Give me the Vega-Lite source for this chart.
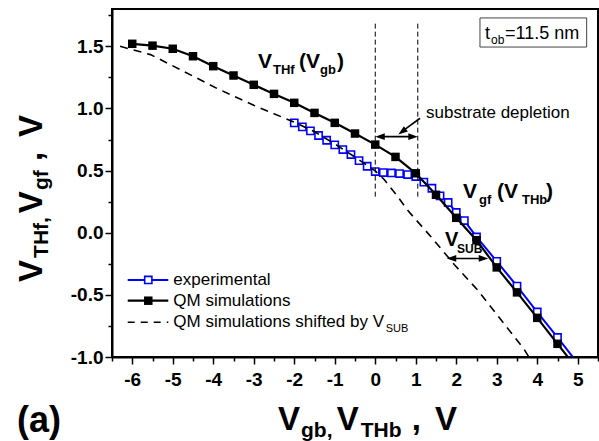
{
  "$schema": "https://vega.github.io/schema/vega-lite/v6.json",
  "width": 486,
  "height": 348,
  "autosize": {"type": "none"},
  "padding": {"left": 112, "top": 9, "right": 1, "bottom": 84},
  "background": "white",
  "config": {"view": {"stroke": "black", "strokeWidth": 2}, "font": "Liberation Sans"},
  "datasets": {
    "exp": [
      {"x": -2.0, "y": 0.884}, {"x": -1.8, "y": 0.852}, {"x": -1.6, "y": 0.819}, {"x": -1.4, "y": 0.782},
      {"x": -1.2, "y": 0.744}, {"x": -1.0, "y": 0.707}, {"x": -0.8, "y": 0.669}, {"x": -0.6, "y": 0.629},
      {"x": -0.4, "y": 0.58}, {"x": -0.2, "y": 0.535}, {"x": 0.0, "y": 0.492}, {"x": 0.2, "y": 0.484},
      {"x": 0.4, "y": 0.481}, {"x": 0.6, "y": 0.476}, {"x": 0.8, "y": 0.468}, {"x": 1.0, "y": 0.452},
      {"x": 1.2, "y": 0.407}, {"x": 1.4, "y": 0.358}, {"x": 1.6, "y": 0.297}, {"x": 1.8, "y": 0.243},
      {"x": 2.0, "y": 0.163}, {"x": 2.2, "y": 0.098}, {"x": 2.5, "y": -0.034}, {"x": 3.0, "y": -0.23},
      {"x": 3.5, "y": -0.43}, {"x": 4.0, "y": -0.638}, {"x": 4.5, "y": -0.843}, {"x": 4.95, "y": -1.03}
    ],
    "qm": [
      {"x": -6.0, "y": 1.52}, {"x": -5.5, "y": 1.505}, {"x": -5.0, "y": 1.48}, {"x": -4.5, "y": 1.42},
      {"x": -4.0, "y": 1.34}, {"x": -3.5, "y": 1.265}, {"x": -3.0, "y": 1.19}, {"x": -2.5, "y": 1.117},
      {"x": -2.0, "y": 1.045}, {"x": -1.5, "y": 0.964}, {"x": -1.0, "y": 0.884}, {"x": -0.5, "y": 0.798},
      {"x": 0.0, "y": 0.709}, {"x": 0.5, "y": 0.61}, {"x": 1.0, "y": 0.478}, {"x": 1.5, "y": 0.305},
      {"x": 2.0, "y": 0.12}, {"x": 2.5, "y": -0.06}, {"x": 3.0, "y": -0.279}, {"x": 3.5, "y": -0.48},
      {"x": 4.0, "y": -0.685}, {"x": 4.5, "y": -0.894}, {"x": 4.95, "y": -1.08}
    ],
    "shifted": [
      {"x": -6.3, "y": 1.5}, {"x": -5.55, "y": 1.433}, {"x": -4.8, "y": 1.31}, {"x": -3.9, "y": 1.16},
      {"x": -3.0, "y": 1.025}, {"x": -2.5, "y": 0.957}, {"x": -2.0, "y": 0.89}, {"x": -1.5, "y": 0.812},
      {"x": -1.0, "y": 0.715}, {"x": -0.5, "y": 0.608}, {"x": 0.0, "y": 0.497}, {"x": 0.22, "y": 0.428},
      {"x": 0.55, "y": 0.293}, {"x": 0.8, "y": 0.18}, {"x": 1.37, "y": -0.03}, {"x": 1.95, "y": -0.256},
      {"x": 2.53, "y": -0.462}, {"x": 3.1, "y": -0.699}, {"x": 3.68, "y": -0.94}, {"x": 3.85, "y": -1.03}
    ],
    "vlines": [
      {"x": 0.0, "y": 0.29, "y2": 1.69},
      {"x": 1.05, "y": 0.29, "y2": 1.69}
    ],
    "arrows": [
      {"x": 0.1, "y": 0.773, "x2": 0.95, "y2": 0.773},
      {"x": 1.105, "y": 0.921, "x2": 0.64, "y2": 0.81},
      {"x": 1.85, "y": -0.207, "x2": 2.7, "y2": -0.207}
    ],
    "heads_right": [{"x": 1.05, "y": 0.773}, {"x": 2.79, "y": -0.207}],
    "heads_left": [{"x": 0.0, "y": 0.773}, {"x": 1.765, "y": -0.207}],
    "heads_diag": [{"x": 0.569, "y": 0.79}],
    "box": [{"x": 2.586, "x2": 5.22, "y": 1.494, "y2": 1.728}],
    "box_main": [{"t": "t", "x": 2.71, "y": 1.559}, {"t": "=11.5 nm", "x": 3.204, "y": 1.559}],
    "box_sub": [{"t": "ob", "x": 2.858, "y": 1.515}],
    "note": [{"t": "substrate depletion", "x": 1.253, "y": 0.923}],
    "lab_main": [
      {"t": "V", "x": -2.895, "y": 1.325}, {"t": "(V", "x": -1.883, "y": 1.325}, {"t": ")", "x": -0.944, "y": 1.325},
      {"t": "V", "x": 2.167, "y": 0.279}, {"t": "(V", "x": 3.006, "y": 0.279}, {"t": ")", "x": 4.216, "y": 0.279}
    ],
    "lab_sub": [
      {"t": "THf", "x": -2.525, "y": 1.277}, {"t": "gb", "x": -1.364, "y": 1.277},
      {"t": "gf", "x": 2.562, "y": 0.231}, {"t": "THb", "x": 3.623, "y": 0.231}
    ],
    "vsub_main": [{"t": "V", "x": 1.722, "y": -0.107}],
    "vsub_sub": [{"t": "SUB", "x": 2.019, "y": -0.163}],
    "xt_main": [
      {"t": "V", "x": -2.4, "y": -1.587}, {"t": "V", "x": -0.95, "y": -1.587},
      {"t": ",", "x": 0.9, "y": -1.587}, {"t": "V", "x": 1.475, "y": -1.587}
    ],
    "xt_sub": [{"t": "gb,", "x": -1.833, "y": -1.644}, {"t": "THb", "x": -0.36, "y": -1.644}],
    "yt_main": [
      {"t": "V", "x": -8.228, "y": -0.396}, {"t": "V", "x": -8.228, "y": 0.156},
      {"t": ",", "x": -8.228, "y": 0.577}, {"t": "V", "x": -8.228, "y": 0.77}
    ],
    "yt_sub": [{"t": "THf,", "x": -8.08, "y": -0.203}, {"t": "gf", "x": -8.08, "y": 0.344}],
    "panel": [{"t": "(a)", "x": -8.846, "y": -1.606}],
    "leg_exp_line": [{"x": -6.112, "x2": -5.11, "y": -0.38}],
    "leg_qm_line": [{"x": -6.112, "x2": -5.11, "y": -0.547}],
    "leg_sh_line": [{"x": -6.112, "x2": -5.11, "y": -0.721}],
    "leg_exp_pt": [{"x": -5.604, "y": -0.38}],
    "leg_qm_pt": [{"x": -5.604, "y": -0.547}],
    "leg_text": [
      {"t": "experimental", "x": -4.986, "y": -0.38},
      {"t": "QM simulations", "x": -4.986, "y": -0.547},
      {"t": "QM simulations shifted by V", "x": -4.986, "y": -0.721}
    ],
    "leg_sub": [{"t": "SUB", "x": 0.26, "y": -0.778}]
  },
  "encoding": {
    "x": {
      "field": "x", "type": "quantitative",
      "scale": {"domain": [-6.5, 5.5], "nice": false, "zero": false},
      "axis": {
        "title": null, "grid": false,
        "values": [-6.5, -6, -5.5, -5, -4.5, -4, -3.5, -3, -2.5, -2, -1.5, -1, -0.5, 0, 0.5, 1, 1.5, 2, 2.5, 3, 3.5, 4, 4.5, 5, 5.5],
        "domainColor": "black", "domainWidth": 2,
        "tickColor": "black", "tickWidth": 1.5,
        "tickSize": {"condition": {"test": "datum.value % 1 !== 0", "value": 4}, "value": 7},
        "labelExpr": "datum.value % 1 !== 0 ? '' : replace(format(datum.value, 'd'), '\u2212', '-')",
        "labelFont": "Liberation Sans", "labelFontWeight": "bold", "labelFontSize": 19,
        "labelColor": "black", "labelPadding": 6, "labelFlush": false, "labelOverlap": false
      }
    },
    "y": {
      "field": "y", "type": "quantitative",
      "scale": {"domain": [-1, 1.8], "nice": false, "zero": false},
      "axis": {
        "title": null, "grid": false,
        "values": [-1, -0.75, -0.5, -0.25, 0, 0.25, 0.5, 0.75, 1, 1.25, 1.5, 1.75],
        "domainColor": "black", "domainWidth": 2,
        "tickColor": "black", "tickWidth": 1.5,
        "tickSize": {"condition": {"test": "abs(datum.value*2 - round(datum.value*2)) > 0.01", "value": 4}, "value": 7},
        "labelExpr": "abs(datum.value*2 - round(datum.value*2)) > 0.01 ? '' : replace(format(datum.value, '.1f'), '\u2212', '-')",
        "labelFont": "Liberation Sans", "labelFontWeight": "bold", "labelFontSize": 19,
        "labelColor": "black", "labelPadding": 2, "labelFlush": false, "labelOverlap": false
      }
    }
  },
  "layer": [
    {"data": {"name": "exp"}, "mark": {"type": "line", "color": "#0000ff", "strokeWidth": 2, "clip": true}},
    {"data": {"name": "exp"}, "transform": [{"filter": "datum.x < 4.7"}],
     "mark": {"type": "point", "shape": "square", "filled": true, "fill": "white", "stroke": "#0000ff", "strokeWidth": 1.6, "size": 52, "opacity": 1}},
    {"data": {"name": "qm"}, "mark": {"type": "line", "color": "black", "strokeWidth": 2.2, "clip": true}},
    {"data": {"name": "qm"}, "transform": [{"filter": "datum.x < 4.7"}],
     "mark": {"type": "point", "shape": "square", "filled": true, "color": "black", "size": 72, "opacity": 1}},
    {"data": {"name": "shifted"}, "mark": {"type": "line", "color": "black", "strokeWidth": 1.6, "strokeDash": [8, 6], "clip": true}},
    {"data": {"name": "vlines"}, "mark": {"type": "rule", "color": "black", "strokeWidth": 1, "strokeDash": [5, 3]},
     "encoding": {"y2": {"field": "y2"}}},
    {"data": {"name": "arrows"}, "mark": {"type": "rule", "color": "black", "strokeWidth": 1.6},
     "encoding": {"x2": {"field": "x2"}, "y2": {"field": "y2"}}},
    {"data": {"name": "heads_right"}, "mark": {"type": "point", "shape": "M0,0L-2,-0.7L-2,0.7Z", "filled": true, "color": "black", "size": 90, "opacity": 1}},
    {"data": {"name": "heads_left"}, "mark": {"type": "point", "shape": "M0,0L2,-0.7L2,0.7Z", "filled": true, "color": "black", "size": 90, "opacity": 1}},
    {"data": {"name": "heads_diag"}, "mark": {"type": "point", "shape": "M0,0L-2,-0.7L-2,0.7Z", "angle": 143, "filled": true, "color": "black", "size": 90, "opacity": 1}},
    {"data": {"name": "box"}, "mark": {"type": "rect", "fill": "white", "stroke": "#444444", "strokeWidth": 1},
     "encoding": {"x2": {"field": "x2"}, "y2": {"field": "y2"}}},
    {"data": {"name": "box_main"}, "mark": {"type": "text", "align": "left", "baseline": "alphabetic", "fontSize": 18, "color": "black"},
     "encoding": {"text": {"field": "t"}}},
    {"data": {"name": "box_sub"}, "mark": {"type": "text", "align": "left", "baseline": "alphabetic", "fontSize": 12, "color": "black"},
     "encoding": {"text": {"field": "t"}}},
    {"data": {"name": "note"}, "mark": {"type": "text", "align": "left", "baseline": "alphabetic", "fontSize": 17, "color": "black"},
     "encoding": {"text": {"field": "t"}}},
    {"data": {"name": "lab_main"}, "mark": {"type": "text", "align": "left", "baseline": "alphabetic", "fontSize": 21, "fontWeight": "bold", "color": "black"},
     "encoding": {"text": {"field": "t"}}},
    {"data": {"name": "lab_sub"}, "mark": {"type": "text", "align": "left", "baseline": "alphabetic", "fontSize": 13, "fontWeight": "bold", "color": "black"},
     "encoding": {"text": {"field": "t"}}},
    {"data": {"name": "vsub_main"}, "mark": {"type": "text", "align": "left", "baseline": "alphabetic", "fontSize": 20, "fontWeight": "bold", "color": "black"},
     "encoding": {"text": {"field": "t"}}},
    {"data": {"name": "vsub_sub"}, "mark": {"type": "text", "align": "left", "baseline": "alphabetic", "fontSize": 12, "fontWeight": "bold", "color": "black"},
     "encoding": {"text": {"field": "t"}}},
    {"data": {"name": "xt_main"}, "mark": {"type": "text", "align": "left", "baseline": "alphabetic", "fontSize": 33, "fontWeight": "bold", "color": "black"},
     "encoding": {"text": {"field": "t"}}},
    {"data": {"name": "xt_sub"}, "mark": {"type": "text", "align": "left", "baseline": "alphabetic", "fontSize": 21, "fontWeight": "bold", "color": "black"},
     "encoding": {"text": {"field": "t"}}},
    {"data": {"name": "yt_main"}, "mark": {"type": "text", "align": "left", "baseline": "alphabetic", "angle": 270, "fontSize": 33, "fontWeight": "bold", "color": "black"},
     "encoding": {"text": {"field": "t"}}},
    {"data": {"name": "yt_sub"}, "mark": {"type": "text", "align": "left", "baseline": "alphabetic", "angle": 270, "fontSize": 21, "fontWeight": "bold", "color": "black"},
     "encoding": {"text": {"field": "t"}}},
    {"data": {"name": "panel"}, "mark": {"type": "text", "align": "left", "baseline": "alphabetic", "fontSize": 36, "fontWeight": "bold", "color": "black"},
     "encoding": {"text": {"field": "t"}}},
    {"data": {"name": "leg_exp_line"}, "mark": {"type": "rule", "color": "#0000ff", "strokeWidth": 2}, "encoding": {"x2": {"field": "x2"}}},
    {"data": {"name": "leg_qm_line"}, "mark": {"type": "rule", "color": "black", "strokeWidth": 2.2}, "encoding": {"x2": {"field": "x2"}}},
    {"data": {"name": "leg_sh_line"}, "mark": {"type": "rule", "color": "black", "strokeWidth": 1.5, "strokeDash": [7, 6]}, "encoding": {"x2": {"field": "x2"}}},
    {"data": {"name": "leg_exp_pt"}, "mark": {"type": "point", "shape": "square", "filled": true, "fill": "white", "stroke": "#0000ff", "strokeWidth": 1.6, "size": 52, "opacity": 1}},
    {"data": {"name": "leg_qm_pt"}, "mark": {"type": "point", "shape": "square", "filled": true, "color": "black", "size": 72, "opacity": 1}},
    {"data": {"name": "leg_text"}, "mark": {"type": "text", "align": "left", "baseline": "middle", "fontSize": 17, "color": "black"},
     "encoding": {"text": {"field": "t"}}},
    {"data": {"name": "leg_sub"}, "mark": {"type": "text", "align": "left", "baseline": "middle", "fontSize": 11, "color": "black"},
     "encoding": {"text": {"field": "t"}}}
  ]
}
